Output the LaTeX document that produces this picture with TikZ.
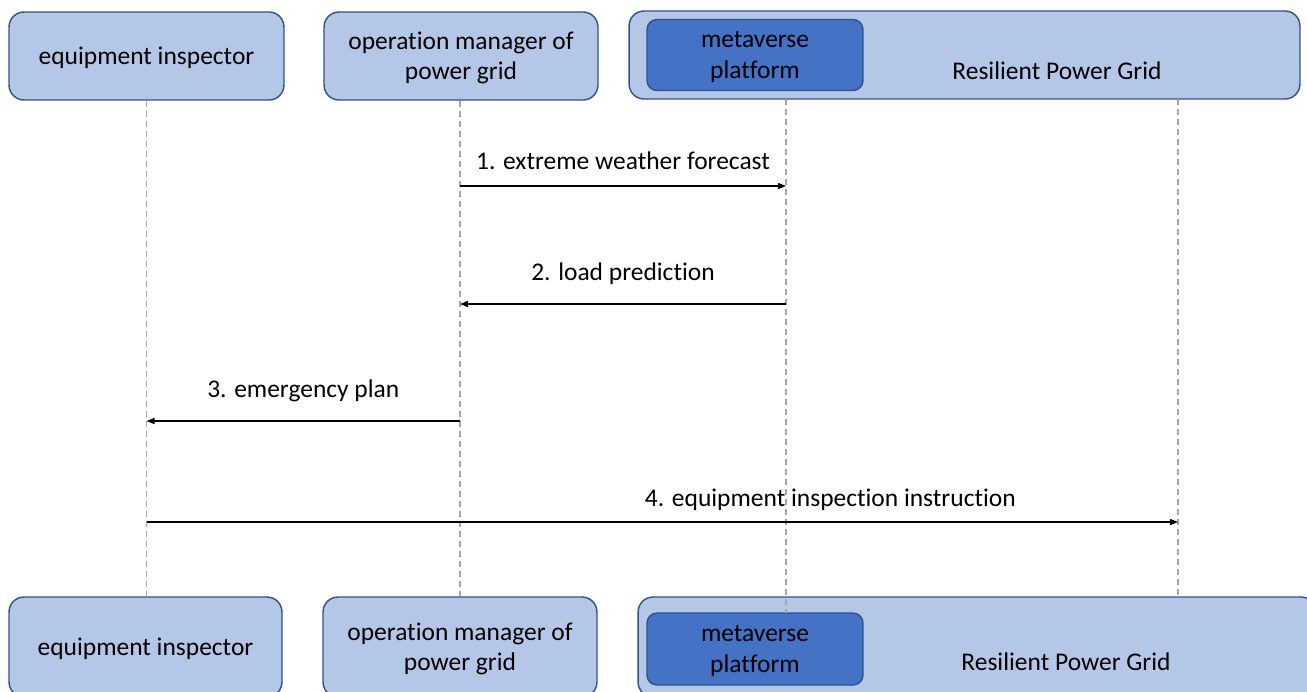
\documentclass[tikz,border=0pt]{standalone}
\usepackage{fontspec}
\setmainfont{Carlito}[Ligatures={NoCommon}]
\usetikzlibrary{arrows.meta,positioning}

\definecolor{boxfill}{HTML}{B4C7E7}
\definecolor{boxline}{HTML}{2F528F}
\definecolor{platfill}{HTML}{4472C4}
\definecolor{lifegray}{HTML}{A6A6A6}

\begin{document}
\begin{tikzpicture}[x=0.02cm,y=-0.02cm,
    actor/.style={draw=boxline, fill=boxfill, rounded corners=0.3cm, line width=0.8pt,
        align=center, inner sep=0pt, text depth=0pt, font=\fontsize{14.5}{17.2}\selectfont},
    platform/.style={actor, fill=platfill, rounded corners=0.2cm},
    gridlabel/.style={inner sep=0pt, font=\fontsize{14.5}{17.2}\selectfont},
    lifeline/.style={draw=lifegray, line width=0.6pt, dash pattern=on 0.12cm off 0.08cm},
    msg/.style={-{Triangle[length=1.6mm,width=1.2mm]}, line width=0.7pt},
    msglabel/.style={anchor=base, inner sep=0pt, font=\fontsize{14.5}{17.2}\selectfont}]
    \useasboundingbox (0,0) rectangle (1307,691);
    \clip (0,0) rectangle (1307,691);

    % top row
    \node[actor, minimum width=5.5cm, minimum height=1.76cm] (eq_top) at (146.5,56) {equipment inspector};
    \node[actor, minimum width=5.48cm, minimum height=1.76cm] (om_top) at (461,56) {operation manager of\\power grid};
    \node[actor, minimum width=13.42cm, minimum height=1.76cm] (rpg_top) at (964.5,55) {};
    \node[platform, minimum width=4.32cm, minimum height=1.42cm] (mp_top) at (755,55) {metaverse\\platform};
    \node[gridlabel] (rpg_top_label) at (1057,71) {Resilient Power Grid};

    % bottom row
    \node[actor, minimum width=5.46cm, minimum height=2cm] (eq_bot) at (145.5,647) {equipment inspector};
    \node[actor, minimum width=5.48cm, minimum height=2cm] (om_bot) at (460,647) {operation manager of\\power grid};
    \node[actor, minimum width=13.56cm, minimum height=2cm] (rpg_bot) at (977,647) {};
    \node[platform, minimum width=4.32cm, minimum height=1.44cm] (mp_bot) at (755,649) {metaverse\\platform};
    \node[gridlabel] (rpg_bot_label) at (1066,662) {Resilient Power Grid};

    % lifelines
    \coordinate (mp_life_top) at (786,99);
    \coordinate (mp_life_bot) at (786,613);
    \coordinate (rpg_life_top) at (1178,99);
    \coordinate (rpg_life_bot) at (1178,597);
    \draw[lifeline] (eq_top.south) -- (eq_top.south |- eq_bot.north);
    \draw[lifeline] (om_bot.north |- om_top.south) -- (om_bot.north);
    \draw[lifeline] (mp_life_top) -- (mp_life_bot);
    \draw[lifeline] (rpg_life_top) -- (rpg_life_bot);

    % messages
    \coordinate (step1) at (0,186);
    \coordinate (step2) at (0,304);
    \coordinate (step3) at (0,421);
    \coordinate (step4) at (0,522);
    \draw[msg] (om_bot.north |- step1) -- node[msglabel, yshift=0.34cm] {1. extreme weather forecast} (mp_life_top |- step1);
    \draw[msg] (mp_life_top |- step2) -- node[msglabel, yshift=0.48cm] {2. load prediction} (om_bot.north |- step2);
    \draw[msg] (om_bot.north |- step3) -- node[msglabel, yshift=0.48cm] {3. emergency plan} (eq_top.south |- step3);
    \draw[msg] (eq_top.south |- step4) -- node[msglabel, pos=0.663, yshift=0.32cm] {4. equipment inspection instruction} (rpg_life_top |- step4);
\end{tikzpicture}
\end{document}
